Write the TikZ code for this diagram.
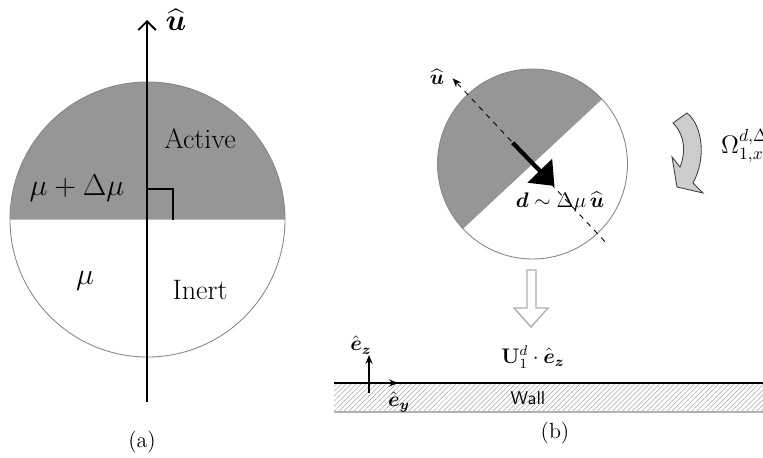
\documentclass[tikz,border=0pt]{standalone}
\usepackage{amsmath,amssymb}
\usetikzlibrary{calc,arrows.meta,patterns.meta}
\definecolor{activegray}{RGB}{150,150,150}
\definecolor{rimgray}{RGB}{135,135,135}
\definecolor{bendgray}{RGB}{205,205,205}
\definecolor{pushgray}{RGB}{175,175,175}

\begin{document}
\begin{tikzpicture}[x=0.02cm,y=0.02cm,
  big/.style={font=\fontsize{16}{19}\selectfont},
  mid/.style={font=\fontsize{12}{14}\selectfont},
  captext/.style={font=\fontsize{12.5}{15}\selectfont}]
\useasboundingbox (0,0) rectangle (763,457);
% (a) Janus particle, axis vertical
\coordinate (O) at (147.5,237.5); \coordinate (P) at (147,55); \coordinate (Q) at (147,437);
\fill[activegray] (10,237.5) arc (180:0:137.5) -- cycle;
\draw[rimgray,line width=0.5pt] (O) circle (137.5);
\draw[line width=1.1pt,-{Straight Barb[length=5pt,width=10pt]}] (P) -- (Q);
\draw[line width=0.8pt] (147,268) -- (173,268) -- (173,237.5);
\node[big] (ua) at (176,437) {$\widehat{\boldsymbol{u}}$};
\node[big] (act) at (200,318) {Active};
\node[big] (dmu) at (77,269) {$\mu+\Delta\mu$};
\node[big] (mu) at (85,176) {$\mu$};
\node[big] (inert) at (200,167) {Inert};
\node[captext] (capa) at (142,15) {(a)};
% (b) tilted particle above the wall
\coordinate (C) at (532.5,293);
\fill[activegray] ($(C)+(43:95)$) arc (43:223:95) -- cycle;
\draw[rimgray,line width=0.5pt] (C) circle (95);
\coordinate (d1) at ($(C)+(-47:106)$); \coordinate (d2) at ($(C)+(133:117)$);
\draw[dashed,line width=0.5pt,-{Stealth[length=5pt,width=4pt]}] (d1) -- (d2);
\coordinate (p1) at ($(C)+(133:29)$); \coordinate (p2) at ($(C)+(-45:31)$);
\draw[line width=2.4pt,-{Triangle[length=12pt,width=19pt]}] (p1) -- (p2);
\node[mid] (ub) at (437,380) {$\widehat{\boldsymbol{u}}$};
\node[font=\fontsize{11.5}{14}\selectfont] (dl) at (560,255) {$\boldsymbol{d}\sim\Delta\mu\,\widehat{\boldsymbol{u}}$};
% rotation
\filldraw[fill=bendgray,draw=black!75,line width=0.5pt]
  (673,334) -- (687,344) .. controls (702,332) and (707,300) .. (693,274)
  -- (703,264) -- (677,270) -- (672,300) -- (680,290)
  .. controls (686,305) and (685,322) .. cycle;
\node[font=\fontsize{14}{16}\selectfont,anchor=west] (om) at (715,311) {$\Omega^{d,\Delta\mu}_{1,x}$};
% translation towards the wall
\draw[pushgray,fill=white,line width=0.8pt] (527,187) -- (536,187) -- (536,149) -- (548,149)
  -- (531,130) -- (514,149) -- (527,149) -- cycle;
\node[mid] (ul) at (533,100) {$\mathbf{U}^{d}_{1}\cdot\hat{\boldsymbol{e}}_{\boldsymbol{z}}$};
% wall
\fill[pattern={Lines[angle=45,distance=2pt,line width=0.3pt]},pattern color=gray!70] (334,45) rectangle (763,74);
\draw[gray!60,line width=0.6pt] (334,45) -- (763,45);
\draw[line width=1pt] (334,74) -- (763,74);
\node[font=\sffamily\fontsize{10.5}{12}\selectfont] (wall) at (528,59) {Wall};
\coordinate (ez0) at (369,64); \coordinate (ez1) at (369,102);
\coordinate (ey0) at (360,74); \coordinate (ey1) at (398,74);
\draw[line width=0.9pt,-{Stealth[length=5pt,width=4pt]}] (ez0) -- (ez1);
\draw[line width=0.9pt,-{Stealth[length=5pt,width=4pt]}] (ey0) -- (ey1);
\node[mid] (ez) at (361,112) {$\hat{\boldsymbol{e}}_{\boldsymbol{z}}$};
\node[mid] (ey) at (399,55) {$\hat{\boldsymbol{e}}_{\boldsymbol{y}}$};
\node[captext] (capb) at (555,24) {(b)};
\end{tikzpicture}
\end{document}
